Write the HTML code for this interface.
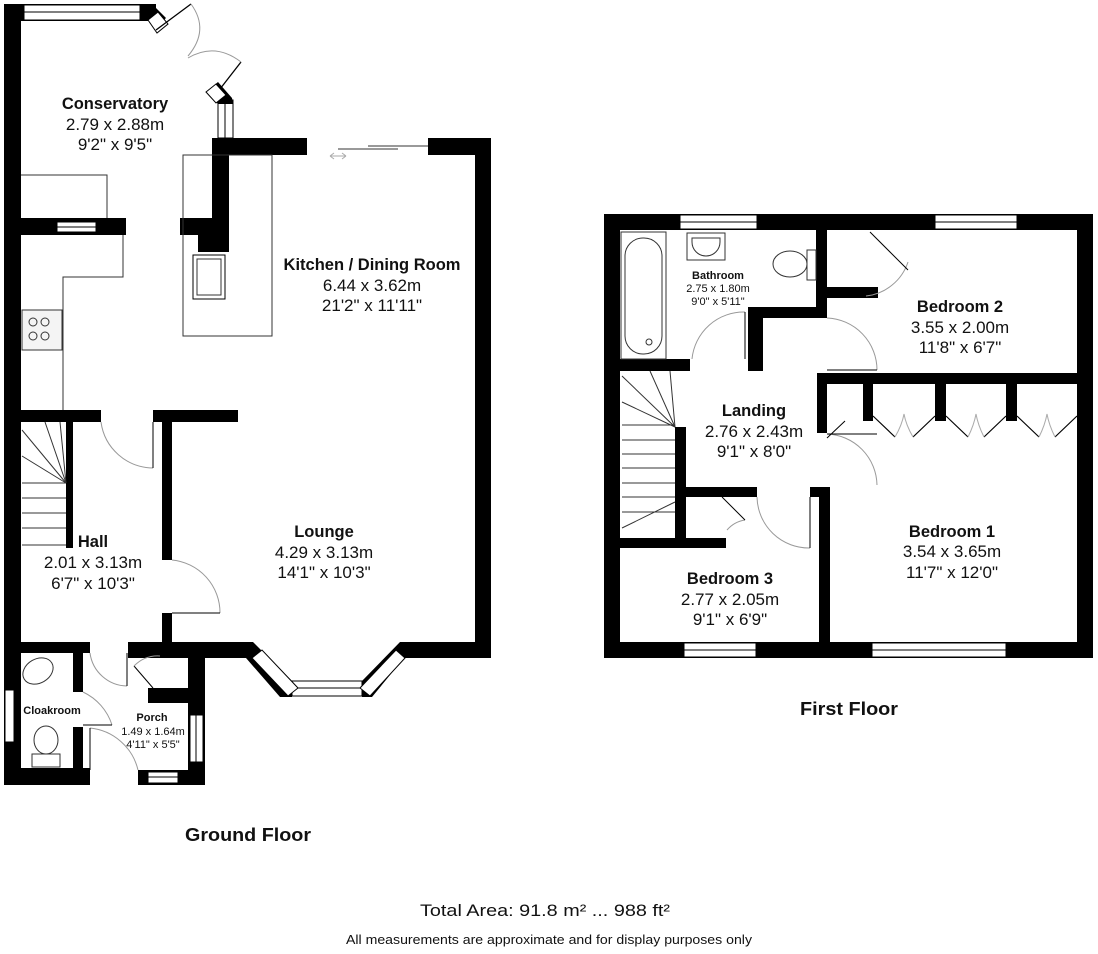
<!DOCTYPE html>
<html><head><meta charset="utf-8"><style>
html,body{margin:0;padding:0;background:#fff;}
svg{display:block;}
text{font-family:"Liberation Sans",Arial,sans-serif;fill:#111;}
.b{font-weight:bold;font-size:16.5px;}
.d{font-size:17px;}
</style></head><body>
<svg width="1098" height="954" viewBox="0 0 1098 954" xmlns="http://www.w3.org/2000/svg">
<g fill="#000">
<rect x="4" y="4" width="17" height="781"/>
<rect x="21" y="4" width="135" height="17"/>
<rect x="212" y="138" width="95" height="17"/>
<rect x="212" y="138" width="17" height="97"/>
<rect x="180" y="218" width="49" height="17"/>
<rect x="198" y="235" width="31" height="17"/>
<rect x="428" y="138" width="63" height="17"/>
<rect x="475" y="138" width="16" height="520"/>
<rect x="21" y="218" width="105" height="17"/>
<rect x="21" y="410" width="80" height="12"/>
<rect x="153" y="410" width="85" height="12"/>
<rect x="162" y="422" width="10" height="138"/>
<rect x="162" y="613" width="10" height="30"/>
<rect x="66" y="422" width="7" height="126"/>
<rect x="128" y="642" width="125" height="16"/>
<rect x="400" y="642" width="91" height="16"/>
<rect x="21" y="642" width="69" height="11"/>
<rect x="73" y="653" width="10" height="39"/>
<rect x="73" y="727" width="10" height="58"/>
<rect x="4" y="768" width="86" height="17"/>
<rect x="148" y="650" width="10" height="8"/>
<rect x="148" y="688" width="42" height="15"/>
<rect x="188" y="653" width="17" height="132"/>
<rect x="138" y="770" width="67" height="15"/>
<rect x="604" y="214" width="489" height="16"/>
<rect x="604" y="214" width="16" height="444"/>
<rect x="604" y="642" width="489" height="16"/>
<rect x="1077" y="214" width="16" height="444"/>
<rect x="816" y="230" width="11" height="88"/>
<rect x="827" y="287" width="51" height="11"/>
<rect x="620" y="359" width="70" height="12"/>
<rect x="748" y="307" width="79" height="11"/>
<rect x="748" y="307" width="15" height="64"/>
<rect x="817" y="373" width="260" height="11"/>
<rect x="817" y="373" width="10" height="60"/>
<rect x="863" y="384" width="10" height="37"/>
<rect x="935" y="384" width="11" height="37"/>
<rect x="1006" y="384" width="11" height="37"/>
<rect x="675" y="427" width="11" height="121"/>
<rect x="686" y="487" width="71" height="10"/>
<rect x="620" y="538" width="106" height="10"/>
<rect x="810" y="487" width="20" height="10"/>
<rect x="819" y="487" width="11" height="160"/>
</g>
<g fill="#fff" stroke="#000" stroke-width="1">
<rect x="24" y="5" width="116" height="15"/><line x1="24" y1="12" x2="140" y2="12"/>
<rect x="57" y="222" width="39" height="10"/><line x1="57" y1="227" x2="96" y2="227"/>
<rect x="218" y="100" width="15" height="38"/><line x1="225" y1="100" x2="225" y2="138"/>
<rect x="5" y="690" width="9" height="52"/>
<rect x="190" y="715" width="13" height="47"/><line x1="196" y1="715" x2="196" y2="762"/>
<rect x="148" y="772" width="30" height="11"/><line x1="148" y1="777" x2="178" y2="777"/>
<rect x="292" y="681" width="70" height="15"/><line x1="292" y1="688" x2="362" y2="688"/>
<rect x="680" y="215" width="77" height="14"/><line x1="680" y1="222" x2="757" y2="222"/>
<rect x="935" y="215" width="82" height="14"/><line x1="935" y1="222" x2="1017" y2="222"/>
<rect x="684" y="643" width="72" height="14"/><line x1="684" y1="650" x2="756" y2="650"/>
<rect x="872" y="643" width="134" height="14"/><line x1="872" y1="650" x2="1006" y2="650"/>
</g>
<polygon points="140,4 152,4 166,18 156,28 146,18 140,18" fill="#000"/>
<polygon points="148,20 158,12 168,24 157,33" fill="#fff" stroke="#000"/>
<line x1="156" y1="30" x2="191" y2="4" stroke="#000" stroke-width="1.3"/>
<path d="M191,4 Q210,30 188,56" fill="none" stroke="#999"/>
<line x1="213" y1="98" x2="241" y2="62" stroke="#000" stroke-width="1.3"/>
<path d="M241,62 Q215,42 188,58" fill="none" stroke="#999"/>
<polygon points="206,92 218,82 232,98 233,104 218,104" fill="#000"/>
<polygon points="206,92 216,84 226,95 216,103" fill="#fff" stroke="#000"/>
<polygon points="240,642 253,642 292,681 292,697 280,697 246,658 240,658" fill="#000"/>
<polygon points="252,658 262,650 298,688 288,696" fill="#fff" stroke="#000"/>
<polygon points="400,642 410,642 410,658 404,658 372,697 362,697 362,681" fill="#000"/>
<polygon points="396,650 405,658 370,696 360,688" fill="#fff" stroke="#000"/>
<g fill="none" stroke="#333" stroke-width="1">
<rect x="183" y="155" width="89" height="181"/>
<rect x="193" y="255" width="32" height="44" stroke="#000"/>
<rect x="197" y="259" width="24" height="36"/>
<polyline points="21,175 107,175 107,218"/>
<polyline points="123,235 123,277 63,277 63,410"/>
<rect x="22" y="310" width="40" height="40" fill="#f4f4f4"/>
<circle cx="33" cy="322" r="4"/><circle cx="45" cy="322" r="4"/>
<circle cx="33" cy="336" r="4"/><circle cx="45" cy="336" r="4"/>
<line x1="338" y1="149" x2="398" y2="149"/><line x1="368" y1="146" x2="428" y2="146"/>
<path d="M330,156 h16 M330,156 l4,-3 M330,156 l4,3 M346,156 l-4,-3 M346,156 l-4,3" stroke="#aaa"/>
<line x1="22" y1="483" x2="66" y2="483"/><line x1="22" y1="498" x2="66" y2="498"/>
<line x1="22" y1="513" x2="66" y2="513"/><line x1="22" y1="528" x2="66" y2="528"/>
<line x1="22" y1="545" x2="66" y2="545"/>
<line x1="66" y1="483" x2="22" y2="456"/><line x1="66" y1="483" x2="22" y2="430"/>
<line x1="66" y1="483" x2="45" y2="422"/><line x1="66" y1="483" x2="60" y2="422"/>
<ellipse cx="38" cy="671" rx="16" ry="12" transform="rotate(-30 38 671)"/>
<ellipse cx="46" cy="740" rx="12" ry="14"/>
<rect x="32" y="754" width="28" height="13"/>
<line x1="134" y1="666" x2="153" y2="688" stroke="#000"/>
</g>
<g fill="none" stroke="#999" stroke-width="1">
<path d="M101,422 A53,53 0 0 0 153,468"/><line x1="153" y1="422" x2="153" y2="468" stroke="#000"/>
<path d="M172,560 A53,53 0 0 1 220,613"/><line x1="172" y1="613" x2="220" y2="613" stroke="#000"/>
<path d="M90,653 A38,38 0 0 0 127,686"/><line x1="127" y1="653" x2="127" y2="686" stroke="#000"/>
<path d="M83,692 A55,55 0 0 1 112,725"/><line x1="83" y1="725" x2="112" y2="725" stroke="#000"/>
<path d="M90,728 A55,55 0 0 1 138,770"/><line x1="90" y1="728" x2="90" y2="770" stroke="#000"/>
<path d="M134,666 Q145,655 160,656"/>
<path d="M692,359 A52,52 0 0 1 745,312"/><line x1="745" y1="312" x2="745" y2="359" stroke="#000"/>
<path d="M827,318 A52,52 0 0 1 877,370"/><line x1="827" y1="370" x2="877" y2="370" stroke="#000"/>
<path d="M827,434 A52,52 0 0 1 877,485"/><line x1="827" y1="434" x2="877" y2="434" stroke="#000"/>
<path d="M757,497 A52,52 0 0 0 810,548"/><line x1="810" y1="497" x2="810" y2="548" stroke="#000"/>
<path d="M866,296 A50,50 0 0 0 908,262"/><line x1="870" y1="232" x2="908" y2="270" stroke="#000"/>
<path d="M727,530 A30,30 0 0 1 745,520"/><line x1="722" y1="497" x2="745" y2="520" stroke="#000"/>
<line x1="827" y1="438" x2="845" y2="421" stroke="#000"/>
</g>
<g fill="none" stroke="#000" stroke-width="1.2">
<polyline points="873,416 895,437"/><polyline points="913,437 935,416"/>
<polyline points="946,416 968,437"/><polyline points="984,437 1006,416"/>
<polyline points="1017,416 1039,437"/><polyline points="1055,437 1077,416"/>
</g>
<g fill="none" stroke="#aaa" stroke-width="1">
<path d="M895,437 Q902,425 904,414 Q906,425 913,437"/>
<path d="M968,437 Q974,425 976,414 Q978,425 984,437"/>
<path d="M1039,437 Q1045,425 1047,414 Q1049,425 1055,437"/>
</g>
<g fill="none" stroke="#333" stroke-width="1">
<rect x="621" y="232" width="45" height="127"/>
<rect x="625" y="238" width="37" height="116" rx="18"/>
<circle cx="649" cy="342" r="3"/>
<rect x="687" y="233" width="38" height="27"/>
<path d="M692,238 h28 v4 a14,14 0 0 1 -28,0 z"/>
<ellipse cx="790" cy="264" rx="17" ry="13"/>
<rect x="807" y="250" width="9" height="30"/>
<line x1="622" y1="425" x2="675" y2="425"/><line x1="622" y1="440" x2="675" y2="440"/>
<line x1="622" y1="454" x2="675" y2="454"/><line x1="622" y1="468" x2="675" y2="468"/>
<line x1="622" y1="483" x2="675" y2="483"/><line x1="622" y1="497" x2="675" y2="497"/>
<line x1="622" y1="512" x2="675" y2="512"/>
<line x1="675" y1="427" x2="622" y2="376"/><line x1="675" y1="427" x2="622" y2="402"/>
<line x1="675" y1="427" x2="650" y2="371"/><line x1="675" y1="427" x2="670" y2="371"/>
<line x1="675" y1="502" x2="622" y2="528"/>
</g>
<g text-anchor="middle">
<text x="115" y="109" class="b">Conservatory</text>
<text x="115" y="130" class="d">2.79 x 2.88m</text>
<text x="115" y="150" class="d">9'2" x 9'5"</text>
<text x="372" y="270" class="b">Kitchen / Dining Room</text>
<text x="372" y="291" class="d">6.44 x 3.62m</text>
<text x="372" y="311" class="d">21'2" x 11'11"</text>
<text x="93" y="547" class="b">Hall</text>
<text x="93" y="568" class="d">2.01 x 3.13m</text>
<text x="93" y="589" class="d">6'7" x 10'3"</text>
<text x="324" y="537" class="b">Lounge</text>
<text x="324" y="558" class="d">4.29 x 3.13m</text>
<text x="324" y="578" class="d">14'1" x 10'3"</text>
<text x="52" y="714" style="font-weight:bold;font-size:11px">Cloakroom</text>
<text x="152" y="721" style="font-weight:bold;font-size:11px">Porch</text>
<text x="153" y="735" style="font-size:11px">1.49 x 1.64m</text>
<text x="153" y="748" style="font-size:11px">4'11" x 5'5"</text>
<text x="248" y="841" style="font-weight:bold;font-size:18px" textLength="126" lengthAdjust="spacingAndGlyphs">Ground Floor</text>
<text x="718" y="279" style="font-weight:bold;font-size:11px">Bathroom</text>
<text x="718" y="292" style="font-size:11px">2.75 x 1.80m</text>
<text x="718" y="305" style="font-size:11px">9'0" x 5'11"</text>
<text x="960" y="312" class="b">Bedroom 2</text>
<text x="960" y="333" class="d">3.55 x 2.00m</text>
<text x="960" y="353" class="d">11'8" x 6'7"</text>
<text x="754" y="416" class="b">Landing</text>
<text x="754" y="437" class="d">2.76 x 2.43m</text>
<text x="754" y="457" class="d">9'1" x 8'0"</text>
<text x="952" y="537" class="b">Bedroom 1</text>
<text x="952" y="557" class="d">3.54 x 3.65m</text>
<text x="952" y="578" class="d">11'7" x 12'0"</text>
<text x="730" y="584" class="b">Bedroom 3</text>
<text x="730" y="605" class="d">2.77 x 2.05m</text>
<text x="730" y="625" class="d">9'1" x 6'9"</text>
<text x="849" y="715" style="font-weight:bold;font-size:18px" textLength="98" lengthAdjust="spacingAndGlyphs">First Floor</text>
<text x="545" y="916" style="font-size:17px" textLength="250" lengthAdjust="spacingAndGlyphs">Total Area: 91.8 m² ... 988 ft²</text>
<text x="549" y="944" style="font-size:13px" textLength="406" lengthAdjust="spacingAndGlyphs">All measurements are approximate and for display purposes only</text>
</g>
</svg>
</body></html>
